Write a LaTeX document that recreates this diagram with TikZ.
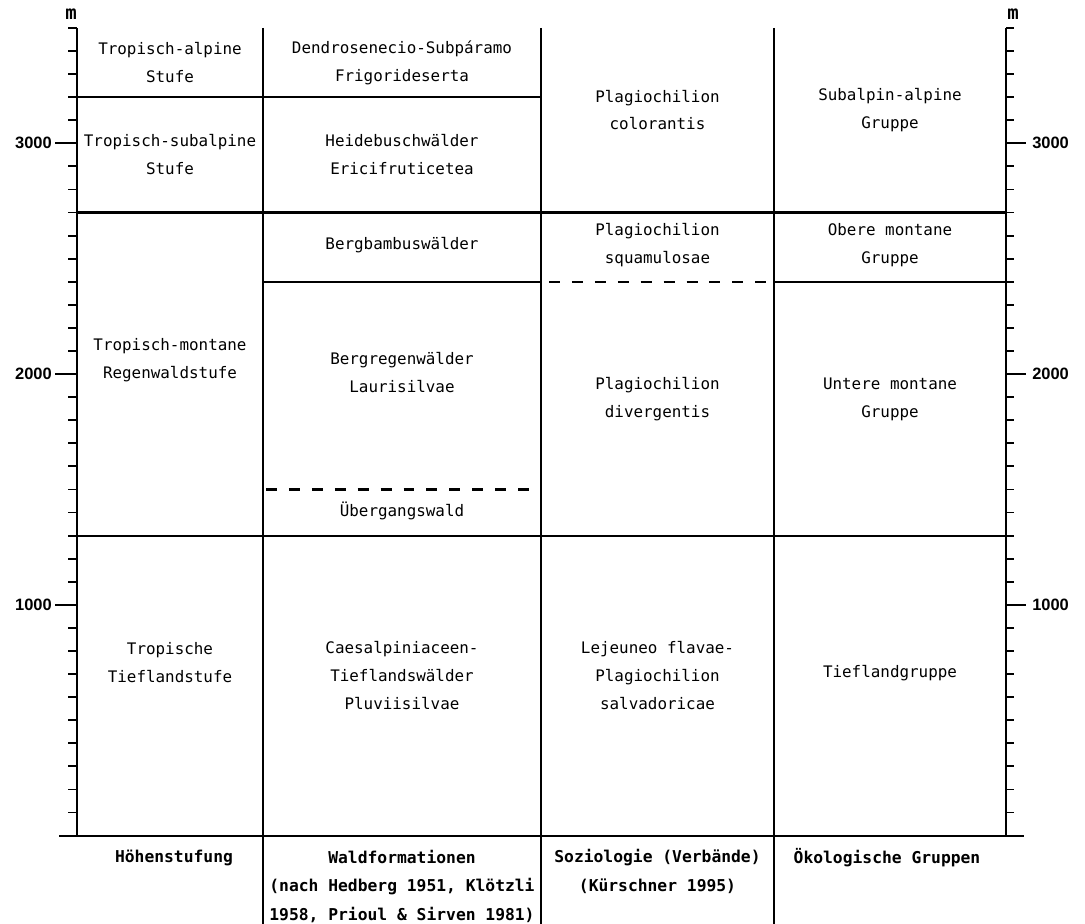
\documentclass[tikz,border=0pt]{standalone}
\usepackage{fontspec}
\setmonofont{DejaVu Sans Mono}
\newfontfamily\axisfont{Liberation Sans}
\usepackage{tikz}
\tikzstyle{zone} = [align=center, inner sep=0pt,
font=\fontsize{11.3}{19.8}\selectfont\ttfamily]
\tikzstyle{heading} = [zone, font=\fontsize{11.6}{20.2}\selectfont\ttfamily\bfseries]
\tikzstyle{scalelabel} = [inner sep=0pt, font=\fontsize{11.7}{12}\selectfont\axisfont\bfseries]
\tikzstyle{unit} = [inner sep=0pt, font=\fontsize{13.5}{13.5}\selectfont\ttfamily\bfseries]
\tikzstyle{border} = [line width=1.55pt]
\tikzstyle{divider} = [line width=1.1pt]
\tikzstyle{transition} = [line width=1.8pt, dash pattern=on 7.8pt off 8.5pt]
\tikzstyle{tick} = [line width=1.3pt]
\newcommand{\altitudeaxis}[3]{ %
  % Axis at x=#1, minor ticks of length #2, major ticks of length #3.
  \draw[border] (#1,0) -- (#1,3500) ; %
  \foreach \h in {100,200,...,3500} { %
    \draw[tick] (#1,\h) -- ++(#2,0) ; %
  } ;
  \foreach \h in {1000,2000,3000} { %
    \draw[tick] (#1,\h) -- ++(#3,0) ; %
  } ;
}

\begin{document}
\begin{tikzpicture}[x=0.025cm,y=0.005765cm]

	\useasboundingbox (0,-381.6) rectangle (1085,3621);

	\altitudeaxis{77}{-9}{-22}
	\altitudeaxis{1006}{8}{20}

	\node[unit] (unitleft) at (71,3560) {m};
	\node[unit] (unitright) at (1013,3560) {m};
	\foreach \h in {1000,2000,3000} { %
		\node[scalelabel, anchor=east] (left\h) at (52,\h) {\h};
		\node[scalelabel, anchor=west] (right\h) at (1032,\h) {\h};
	}

	\foreach \x in {263,541,774} {
		\draw[divider] (\x,3500) -- (\x,-381.6);
	}

	\draw[border] (77,3200) -- (541,3200);
	\draw[border] (77,2700) -- (1006,2700);
	\draw[border] (263,2400) -- (541,2400);
	\draw[transition] (549,2400) -- (772,2400);
	\draw[border] (774,2400) -- (1006,2400);
	\draw[transition] (266,1500) -- (538,1500);
	\draw[border] (77,1300) -- (1006,1300);
	\draw[border] (59,0) -- (1024,0);

	\node[zone] (alpine) at (170,3350) {Tropisch-alpine\\Stufe};
	\node[zone] (subalpine) at (170,2950) {Tropisch-subalpine\\Stufe};
	\node[zone] (montane) at (170,2060) {Tropisch-montane\\Regenwaldstufe};
	\node[zone] (lowland) at (170,750) {Tropische\\Tieflandstufe};

	\node[zone] (frigorideserta) at (402,3350) {Dendrosenecio-Subpáramo\\Frigorideserta};
	\node[zone] (ericifruticetea) at (402,2950) {Heidebuschwälder\\Ericifruticetea};
	\node[zone] (bamboo) at (402,2560) {Bergbambuswälder};
	\node[zone] (laurisilvae) at (402,2008) {Bergregenwälder\\Laurisilvae};
	\node[zone] (transition) at (402,1405) {Übergangswald};
	\node[zone] (pluviisilvae) at (402,694) {Caesalpiniaceen-\\Tieflandswälder\\Pluviisilvae};

	\node[zone] (colorantis) at (657.5,3144) {Plagiochilion\\colorantis};
	\node[zone] (squamulosae) at (657.5,2559) {Plagiochilion\\squamulosae};
	\node[zone] (divergentis) at (657.5,1891) {Plagiochilion\\divergentis};
	\node[zone] (salvadoricae) at (657.5,694) {Lejeuneo flavae-\\Plagiochilion\\salvadoricae};

	\node[zone] (subalpingroup) at (890,3144) {Subalpin-alpine\\Gruppe};
	\node[zone] (uppergroup) at (890,2559) {Obere montane\\Gruppe};
	\node[zone] (lowergroup) at (890,1891) {Untere montane\\Gruppe};
	\node[zone] (lowlandgroup) at (890,703) {Tieflandgruppe};

	\node[heading] (hoehen) at (174,-95) {Höhenstufung};
	\node[heading] (wald) at (402,-219) {Waldformationen\\(nach Hedberg 1951, Klötzli\\1958, Prioul \& Sirven 1981)};
	\node[heading] (soziologie) at (657.5,-156) {Soziologie (Verbände)\\(Kürschner 1995)};
	\node[heading] (oekologie) at (887,-95) {Ökologische Gruppen};

\end{tikzpicture}
\end{document}
